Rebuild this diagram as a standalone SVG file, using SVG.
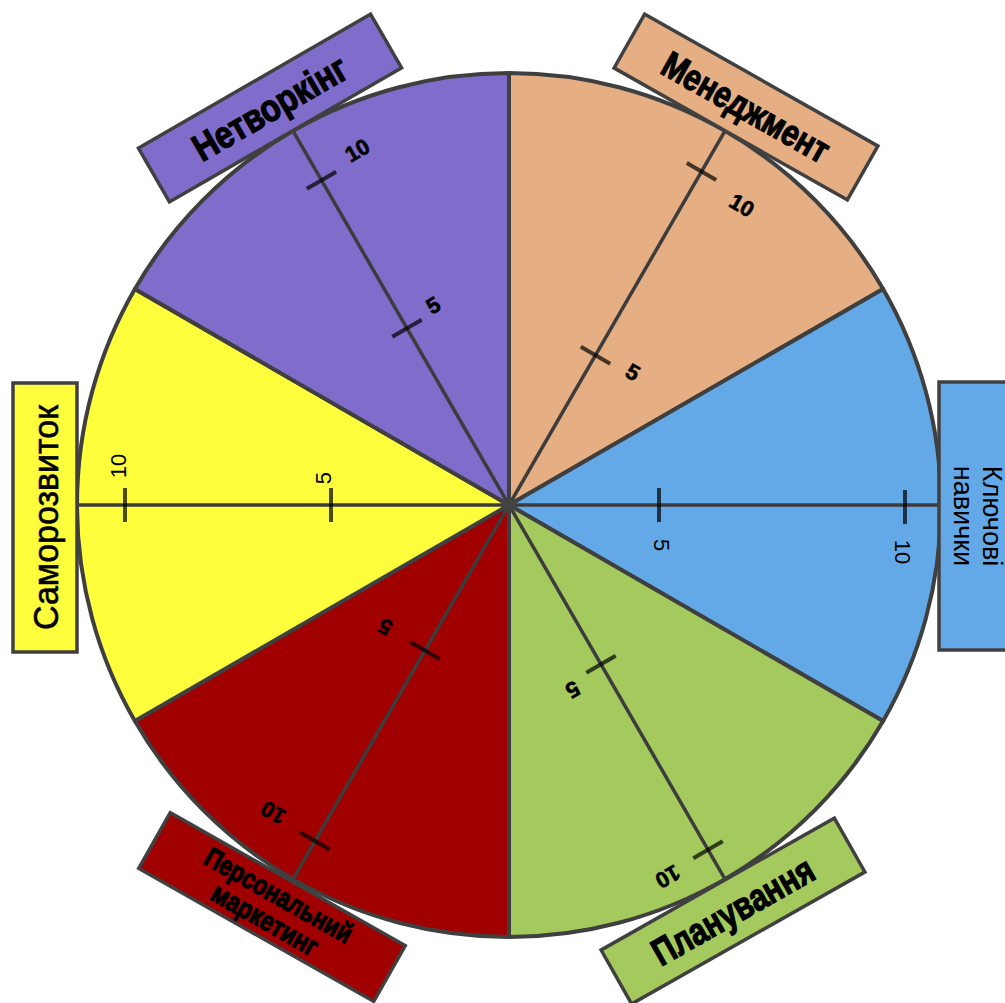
<svg xmlns="http://www.w3.org/2000/svg" width="1005" height="1003" viewBox="0 0 1005 1003">
<style>
.sec{stroke:#3f3f3f;stroke-width:4;stroke-linejoin:round}
.axis{stroke:#3c3c3c;stroke-width:3.5;fill:none}
.tick{stroke:#000;stroke-opacity:0.7;stroke-width:4;fill:none}
.box{stroke:#404040;stroke-width:3.5}
.lbl{font-family:"Liberation Sans",Arial,sans-serif;font-weight:bold;fill:#000;stroke:#000;stroke-width:1.3;text-anchor:middle}
.reg{font-family:"Liberation Sans",Arial,sans-serif;fill:#000;text-anchor:middle}
.num{font-family:"Liberation Sans",Arial,sans-serif;font-weight:bold;font-size:22px;fill:#000;stroke:#000;stroke-width:0.6;text-anchor:middle}
.numr{font-family:"Liberation Sans",Arial,sans-serif;font-size:22px;fill:#000;text-anchor:middle}
</style>
<rect width="1005" height="1003" fill="#ffffff"/>
<g id="sectors">
<path id="sec-management" class="sec" fill="#E5AE83" d="M509,505 L509,73 A432,432 0 0 1 883.1,289 Z"/>
<path id="sec-keyskills" class="sec" fill="#63A9E8" d="M509,505 L883.1,289 A432,432 0 0 1 883.1,721 Z"/>
<path id="sec-planning" class="sec" fill="#A4CA5E" d="M509,505 L883.1,721 A432,432 0 0 1 509,937 Z"/>
<path id="sec-marketing" class="sec" fill="#A10000" d="M509,505 L509,937 A432,432 0 0 1 134.9,721 Z"/>
<path id="sec-selfdev" class="sec" fill="#FEFE3C" d="M509,505 L134.9,721 A432,432 0 0 1 134.9,289 Z"/>
<path id="sec-networking" class="sec" fill="#806CCB" d="M509,505 L134.9,289 A432,432 0 0 1 509,73 Z"/>
</g>
<g id="connectors">
<line class="axis" x1="509" y1="505" x2="725" y2="130.9"/>
<line class="axis" x1="509" y1="505" x2="293" y2="130.9"/>
<line class="axis" x1="509" y1="505" x2="293" y2="879.1"/>
<line class="axis" x1="509" y1="505" x2="725" y2="879.1"/>
<line class="axis" x1="509" y1="505" x2="941" y2="505"/>
<line class="axis" x1="509" y1="505" x2="77" y2="505"/>
<circle cx="509" cy="505" r="7" fill="#444"/>
</g>
<g id="ticks">
<line class="tick" x1="580.8" y1="346.7" x2="610.2" y2="363.7"/>
<line class="tick" x1="686.8" y1="163.1" x2="716.2" y2="180.1"/>
<line class="tick" x1="392.3" y1="336.8" x2="421.7" y2="319.8"/>
<line class="tick" x1="306.8" y1="188.7" x2="336.2" y2="171.7"/>
<line class="tick" x1="410.3" y1="642" x2="439.7" y2="659"/>
<line class="tick" x1="300.3" y1="832.5" x2="329.7" y2="849.5"/>
<line class="tick" x1="586.3" y1="672.8" x2="615.7" y2="655.8"/>
<line class="tick" x1="693.3" y1="858.2" x2="722.7" y2="841.2"/>
<line class="tick" x1="331" y1="488" x2="331" y2="522"/>
<line class="tick" x1="125" y1="488" x2="125" y2="522"/>
<line class="tick" x1="659" y1="488" x2="659" y2="522"/>
<line class="tick" x1="905" y1="490" x2="905" y2="524"/>
</g>
<g id="tick-labels">
<text class="num" transform="translate(633,372) rotate(30)" y="8">5</text>
<text class="num" transform="translate(742,205) rotate(30)" y="8">10</text>
<text class="num" transform="translate(433,305) rotate(-30)" y="8">5</text>
<text class="num" transform="translate(357,150) rotate(-30)" y="8">10</text>
<text class="num" transform="translate(385,627) rotate(210)" y="8">5</text>
<text class="num" transform="translate(273,813) rotate(210)" y="8">10</text>
<text class="num" transform="translate(573,690) rotate(150)" y="8">5</text>
<text class="num" transform="translate(668,877) rotate(150)" y="8">10</text>
<text class="numr" transform="translate(118,466) rotate(-90)" y="8">10</text>
<text class="numr" transform="translate(323,478) rotate(-90)" y="8">5</text>
<text class="numr" transform="translate(662,545) rotate(90)" y="8">5</text>
<text class="numr" transform="translate(903,552) rotate(90)" y="8">10</text>
</g>
<g id="node-networking" transform="translate(270,108) rotate(-30)">
<rect class="box" x="-134" y="-31" width="268" height="62" fill="#806CCB"/>
<text class="lbl" font-size="38" y="13" textLength="172" lengthAdjust="spacingAndGlyphs">Нетворкінг</text>
</g>
<g id="node-management" transform="translate(746,107) rotate(29.5)">
<rect class="box" x="-134" y="-31" width="268" height="62" fill="#E5AE83"/>
<text class="lbl" font-size="37" y="13" textLength="186" lengthAdjust="spacingAndGlyphs">Менеджмент</text>
</g>
<g id="node-keyskills" transform="translate(977,516) rotate(90)">
<rect class="box" x="-134" y="-34" width="268" height="72" fill="#63A9E8"/>
<text class="reg" font-size="27" y="-6">Ключові</text>
<text class="reg" font-size="27" y="23">навички</text>
</g>
<g id="node-selfdev" transform="translate(45,517.5) rotate(-90)">
<rect class="box" x="-134.5" y="-32" width="269" height="64" fill="#FEFE3C"/>
<text class="reg" font-size="35" y="13" textLength="225" lengthAdjust="spacingAndGlyphs" stroke="#000" stroke-width="0.6">Саморозвиток</text>
</g>
<g id="node-marketing" transform="translate(272,907) rotate(29.5)">
<rect class="box" x="-135" y="-32" width="270" height="64" fill="#A10000"/>
<text class="lbl" font-size="28" y="-4" textLength="165" lengthAdjust="spacingAndGlyphs">Персональний</text>
<text class="lbl" font-size="28" y="24" textLength="118" lengthAdjust="spacingAndGlyphs">маркетинг</text>
</g>
<g id="node-planning" transform="translate(733,911) rotate(-29.5)">
<rect class="box" x="-134" y="-31" width="268" height="62" fill="#A4CA5E"/>
<text class="lbl" font-size="38" y="13" textLength="180" lengthAdjust="spacingAndGlyphs">Планування</text>
</g>
</svg>
